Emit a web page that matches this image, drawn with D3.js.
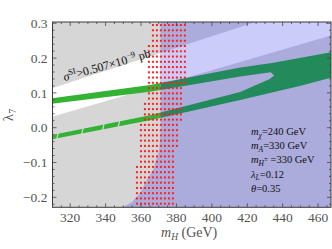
<!DOCTYPE html>
<html><head><meta charset="utf-8">
<script src="https://cdn.jsdelivr.net/npm/d3@7"></script>
<style>body{margin:0;background:#fff}svg{display:block}</style>
</head><body><svg id="c" width="332" height="249"></svg>
<script>
// ---------- data ----------
const xDomain = [310, 467.3];
const yDomain = [-0.2287, 0.3037];
const xTicks = [320, 340, 360, 380, 400, 420, 440, 460];
const yTicks = [-0.2, -0.1, 0.0, 0.1, 0.2, 0.3];
const yTickLabels = ["\u22120.2", "\u22120.1", "0.0", "0.1", "0.2", "0.3"];

// allowed (white) direct-detection band: upper and lower edges
const bandUpperM = [300, 480];
const bandUpperL = [0.0975, 0.395];
const bandLowerM = [300, 480];
const bandLowerL = [0.017, 0.284];

// relic-density (green) region edges
const upTopM = [305, 365, 416, 434, 470];
const upTopL = [0.081, 0.123, 0.173, 0.186, 0.219];
const upBotM = [433.3, 416, 365, 305];
const upBotL = [0.159, 0.147, 0.103, 0.066];
const loTopM = [305, 365, 416, 432.7];
const loTopL = [-0.026, 0.036, 0.1026, 0.140];
const loBotM = [470, 449.6, 416, 365, 305];
const loBotL = [0.147, 0.120, 0.0796, 0.0215, -0.038];
const tipM = [435.2];
const tipL = [0.150];
// small sampling gaps in the lower branch
const gapM = [312.4, 326.5, 338.3, 347.1];

// excluded (blue) region boundary
const blueM = [371, 371, 370.3, 366.8, 362.3, 359.4, 354.9, 351, 345, 480, 480];
const blueL = [0.32, -0.02, -0.064, -0.121, -0.159, -0.188, -0.213, -0.225, -0.24, -0.24, 0.32];

// red dotted grid region
const dotM0 = 357.7, dotDM = 2.255, dotL0 = 0.295, dotDL = 0.0151;
const dotRowFrom = [0, 4, 12, 15, 19, 24, 27];
const dotRowTo   = [3, 11, 14, 18, 23, 26, 34];
const dotColFrom = [4, 3, 3, 2, 1, 1, 0];
const dotColTo   = [12, 12, 11, 11, 10, 9, 9];

// ---------- drawing ----------
const svg = d3.select("#c");
const L = 52.5, R = 331, T = 22, B = 207.3;
const x = d3.scaleLinear().domain(xDomain).range([L, R]);
const y = d3.scaleLinear().domain(yDomain).range([B, T]);
const line = d3.line().x(d => x(d[0])).y(d => y(d[1])).curve(d3.curveLinearClosed);
const zip = (a, b) => a.map((v, i) => [v, b[i]]);
const interp = (ms, ls, m) => {
  for (let i = 0; i < ms.length - 1; i++) {
    const a = Math.min(ms[i], ms[i + 1]), b = Math.max(ms[i], ms[i + 1]);
    if (m >= a && m <= b) return ls[i] + (ls[i + 1] - ls[i]) * (m - ms[i]) / (ms[i + 1] - ms[i]);
  }
  return ls[0];
};

const defs = svg.append("defs");
defs.append("clipPath").attr("id", "plot").append("rect")
  .attr("x", L).attr("y", T).attr("width", R - L).attr("height", B - T);
defs.append("clipPath").attr("id", "blue").append("path")
  .attr("d", line(zip(blueM, blueL)));

const bandPts = zip(bandUpperM, bandUpperL).concat(zip(bandLowerM, bandLowerL).reverse());
const greenPts = zip(upTopM, upTopL)
  .concat(zip(loBotM, loBotL))
  .concat(zip(loTopM, loTopL))
  .concat(zip(tipM, tipL))
  .concat(zip(upBotM, upBotL));

const g = svg.append("g").attr("clip-path", "url(#plot)");
g.append("rect").attr("x", L).attr("y", T).attr("width", R - L).attr("height", B - T).attr("fill", "#d6d6d6");
g.append("path").attr("d", line(bandPts)).attr("fill", "#ffffff");
g.append("path").attr("d", line(greenPts)).attr("fill", "#34b234");
// gaps in lower branch (background shows through)
gapM.forEach(m => {
  const lt = interp(loTopM, loTopL, m + 0.8), lb = interp(loBotM, loBotL, m);
  g.append("line").attr("x1", x(m)).attr("y1", y(lb - 0.002))
    .attr("x2", x(m + 0.8)).attr("y2", y(lt + 0.002))
    .attr("stroke", "#d6d6d6").attr("stroke-width", 1.2);
});

const gb = g.append("g").attr("clip-path", "url(#blue)");
gb.append("rect").attr("x", L).attr("y", T).attr("width", R - L).attr("height", B - T).attr("fill", "#ababdc");
gb.append("path").attr("d", line(bandPts)).attr("fill", "#ccccfb");
gb.append("path").attr("d", line(greenPts)).attr("fill", "#238a5c");

// red dots
const dots = [];
dotRowFrom.forEach((r0, k) => {
  for (let j = r0; j <= dotRowTo[k]; j++)
    for (let i = dotColFrom[k]; i <= dotColTo[k]; i++)
      dots.push([dotM0 + i * dotDM, dotL0 - j * dotDL]);
});
g.selectAll("rect.dot").data(dots).join("rect").attr("class", "dot")
  .attr("x", d => x(d[0]) - 1).attr("y", d => y(d[1]) - 1)
  .attr("width", 2).attr("height", 2).attr("fill", "#ff1f1f");

// σ label
const sig = svg.append("text").attr("transform", `translate(${x(316.8)},${y(0.134)}) rotate(-15.5)`)
  .attr("font-family", "Liberation Serif").attr("font-size", 12).attr("fill", "#111");
sig.append("tspan").attr("font-style", "italic").text("\u03c3");
sig.append("tspan").attr("dy", -4.5).attr("font-size", 8.5).text("SI");
sig.append("tspan").attr("dy", 4.5).text(">0.507\u00d710");
sig.append("tspan").attr("dy", -4.5).attr("font-size", 8.5).text("\u22129");
sig.append("tspan").attr("dy", 4.5).text(" pb");

// frame
svg.append("rect").attr("x", L).attr("y", T).attr("width", R - L).attr("height", B - T)
  .attr("fill", "none").attr("stroke", "#3a3a3a").attr("stroke-width", 1);

// ticks
const xMinor = d3.range(310, 468, 5);
const yMinor = d3.range(-0.22, 0.301, 0.02);
const tk = svg.append("g").attr("stroke", "#444").attr("stroke-width", 0.8);
xMinor.forEach(v => {
  const len = (Math.round(v) % 20 === 0) ? 4 : 2;
  tk.append("line").attr("x1", x(v)).attr("x2", x(v)).attr("y1", B).attr("y2", B - len);
  tk.append("line").attr("x1", x(v)).attr("x2", x(v)).attr("y1", T).attr("y2", T + len);
});
yMinor.forEach(v => {
  const isMaj = Math.abs(Math.round(v * 10) - v * 10) < 1e-6;
  const len = isMaj ? 4 : 2;
  tk.append("line").attr("x1", L).attr("x2", L + len).attr("y1", y(v)).attr("y2", y(v));
  tk.append("line").attr("x1", R).attr("x2", R - len).attr("y1", y(v)).attr("y2", y(v));
});

// tick labels
const lab = svg.append("g").attr("font-family", "Liberation Serif").attr("font-size", 13.5).attr("fill", "#555");
lab.selectAll("text.x").data(xTicks).join("text").attr("class", "x")
  .attr("x", d => x(d)).attr("y", 222).attr("text-anchor", "middle").text(d => d);
lab.selectAll("text.y").data(yTicks).join("text").attr("class", "y")
  .attr("x", 47.5).attr("y", d => y(d)).attr("dy", "0.35em").attr("text-anchor", "end")
  .text((d, i) => yTickLabels[i]);

// axis titles
const xt = svg.append("text").attr("x", 161).attr("y", 237)
  .attr("font-family", "Liberation Serif").attr("font-size", 13).attr("fill", "#555");
xt.append("tspan").attr("font-style", "italic").attr("font-size", 14).text("m");
xt.append("tspan").attr("font-style", "italic").attr("font-size", 9.5).attr("dy", 2.5).text("H");
xt.append("tspan").attr("dy", -2.5).attr("font-size", 14).text(" (GeV)");

const yt = svg.append("text").attr("transform", "translate(13,115) rotate(-90)")
  .attr("text-anchor", "middle").attr("font-family", "Liberation Serif").attr("font-size", 15).attr("fill", "#555");
yt.append("tspan").text("\u03bb");
yt.append("tspan").attr("font-size", 10).attr("dy", 3).text("7");

// parameter box
const params = [
  {m: "m", s: "\u03c7", sup: "", rest: "=240 GeV"},
  {m: "m", s: "A", sup: "", rest: "=330 GeV"},
  {m: "m", s: "H", sup: "\u00b1", rest: " =330 GeV"},
  {m: "\u03bb", s: "L", sup: "", rest: "=0.12"},
  {m: "\u03b8", s: "", sup: "", rest: "=0.35"}
];
const pg = svg.append("g").attr("font-family", "Liberation Serif").attr("font-size", 10.5).attr("fill", "#111");
params.forEach((p, i) => {
  const t = pg.append("text").attr("x", 251).attr("y", 135 + i * 14.2);
  t.append("tspan").attr("font-style", "italic").text(p.m);
  if (p.s) t.append("tspan").attr("font-style", "italic").attr("font-size", 7.5).attr("dy", 2.5).text(p.s);
  if (p.sup) t.append("tspan").attr("font-size", 7).attr("dy", -5).text(p.sup);
  const back = (p.s ? -2.5 : 0) + (p.sup ? 5 : 0);
  t.append("tspan").attr("dy", back).text(p.rest);
});
</script></body></html>
